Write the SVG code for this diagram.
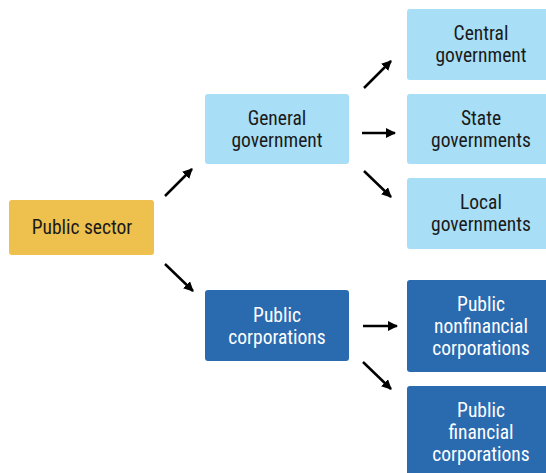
<svg xmlns="http://www.w3.org/2000/svg" width="546" height="473" viewBox="0 0 546 473">
<defs>
<style>
text{font-family:"Roboto Condensed",Roboto,"Liberation Sans",sans-serif;font-size:19.5px;text-anchor:middle;dominant-baseline:central}
.y{fill:#EEC04E}
.l{fill:#A8DEF6}
.d{fill:#2A6BB0}
.tl{fill:#1a1a1a}
.td{fill:#ffffff}
.c line{stroke:#000;stroke-width:2.5;marker-end:url(#ah)}
</style>
<marker id="ah" viewBox="0 0 10 10" refX="9" refY="5" markerWidth="4" markerHeight="4" orient="auto" markerUnits="strokeWidth">
<path d="M0,0 L10,5 L0,10 z" fill="#000"/>
</marker>
</defs>
<rect width="546" height="473" fill="#fff"/>
<g id="public-sector"><rect class="y" x="9" y="200" width="145" height="55" rx="3"/><text class="tl" x="82" y="227">Public sector</text></g>
<g id="general-government"><rect class="l" x="205" y="94" width="144" height="70" rx="3"/><text class="tl" x="277" y="118">General</text><text class="tl" x="277" y="140">government</text></g>
<g id="public-corporations"><rect class="d" x="205" y="290" width="144" height="71" rx="3"/><text class="td" x="277" y="315">Public</text><text class="td" x="277" y="337">corporations</text></g>
<g id="central-government"><rect class="l" x="407" y="9" width="145" height="71" rx="3"/><text class="tl" x="481" y="33">Central</text><text class="tl" x="481" y="55">government</text></g>
<g id="state-governments"><rect class="l" x="407" y="94" width="145" height="70" rx="3"/><text class="tl" x="481" y="118">State</text><text class="tl" x="481" y="140">governments</text></g>
<g id="local-governments"><rect class="l" x="407" y="178" width="145" height="71" rx="3"/><text class="tl" x="481" y="202">Local</text><text class="tl" x="481" y="224">governments</text></g>
<g id="public-nonfinancial"><rect class="d" x="407" y="280" width="145" height="92" rx="3"/><text class="td" x="481" y="304">Public</text><text class="td" x="481" y="326">nonfinancial</text><text class="td" x="481" y="348">corporations</text></g>
<g id="public-financial"><rect class="d" x="407" y="386" width="145" height="92" rx="3"/><text class="td" x="481" y="410">Public</text><text class="td" x="481" y="432">financial</text><text class="td" x="481" y="454">corporations</text></g>
<g id="connectors" class="c">
<line x1="165" y1="196" x2="192" y2="169"/>
<line x1="165" y1="264" x2="193" y2="291"/>
<line x1="364" y1="88" x2="391" y2="61"/>
<line x1="362" y1="133" x2="395" y2="133"/>
<line x1="364" y1="171" x2="391" y2="197"/>
<line x1="363" y1="326" x2="397" y2="326"/>
<line x1="363" y1="362" x2="391" y2="389"/>
</g>
</svg>
